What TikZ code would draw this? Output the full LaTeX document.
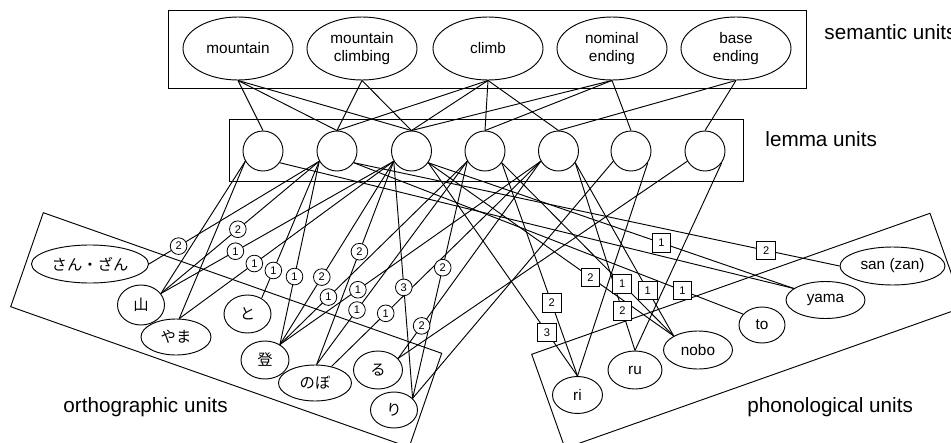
\documentclass[tikz,border=0pt]{standalone}
\usepackage{fontspec}
\setmainfont{Liberation Sans}
\newfontfamily\jpfont{Noto Sans CJK JP}
\usetikzlibrary{shapes.geometric}
\tikzset{
  nodefont/.style={font=\fontsize{11.5}{13.3}\selectfont},
  semnode/.style={ellipse, draw, fill=white, inner sep=0pt, minimum width=82.5pt, minimum height=47.25pt, align=center, nodefont},
  lemnode/.style={circle, draw, fill=white, inner sep=0pt, minimum size=30pt},
  ortnode/.style={ellipse, draw, fill=white, inner sep=0pt, font=\jpfont\fontsize{11.5}{13.3}\selectfont},
  phonode/.style={ellipse, draw, fill=white, inner sep=0pt, nodefont},
  cnum/.style={circle, draw, fill=white, inner sep=0pt, minimum size=12.5pt, line width=0.6pt, font=\fontsize{8.3}{8.3}\selectfont},
  snum/.style={rectangle, draw, fill=white, inner sep=0pt, minimum size=14pt, line width=0.6pt, font=\fontsize{8.3}{8.3}\selectfont},
  grouplabel/.style={anchor=base west, inner sep=0pt, font=\fontsize{15.5}{18}\selectfont},
  unitbox/.style={draw},
  link/.style={draw}
}
\begin{document}
\begin{tikzpicture}[x=0.75pt, y=-0.75pt, line width=0.7pt]
\useasboundingbox (0,0) rectangle (951,443);
\clip (0,0) rectangle (951,443);
% group boxes
\draw[unitbox] (168,10) rectangle (806,88);
\draw[unitbox] (229,119) rectangle (743,181);
\draw[unitbox] (43.3,212.7) -- (441.7,353.3) -- (409.1,447.3) -- (10.7,306.7) -- cycle;
\draw[unitbox] (531.7,354.3) -- (930,213.3) -- (963.3,307.3) -- (565,448.3) -- cycle;
% semantic units
\node[semnode] (s1) at (238,48.5) {mountain};
\node[semnode] (s2) at (362,48.5) {mountain\\climbing};
\node[semnode] (s3) at (488,48.5) {climb};
\node[semnode] (s4) at (612,48.5) {nominal\\ending};
\node[semnode] (s5) at (736,48.5) {base\\ending};
% lemma units
\node[lemnode] (L1) at (263,151) {};
\node[lemnode] (L2) at (337,151) {};
\node[lemnode] (L3) at (411.5,151) {};
\node[lemnode] (L4) at (485,151) {};
\node[lemnode] (L5) at (558.5,151) {};
\node[lemnode] (L6) at (631,151) {};
\node[lemnode] (L7) at (705,151) {};
% orthographic units
\node[ortnode, minimum width=87.75pt, minimum height=28.5pt] (o1) at (90,264) {さん・ざん};
\node[ortnode, minimum width=35.25pt, minimum height=30pt] (o2) at (141,305) {山};
\node[ortnode, minimum width=52.5pt, minimum height=27pt] (o3) at (176,337) {やま};
\node[ortnode, minimum width=35.25pt, minimum height=28.5pt] (o4) at (247.5,314) {と};
\node[ortnode, minimum width=36pt, minimum height=28.5pt] (o5) at (265,360) {登};
\node[ortnode, minimum width=54.75pt, minimum height=27pt] (o6) at (315,383) {のぼ};
\node[ortnode, minimum width=36.75pt, minimum height=28.5pt] (o7) at (378,370) {る};
\node[ortnode, minimum width=35.25pt, minimum height=27pt] (o8) at (394,410) {り};
% phonological units
\node[phonode, minimum width=78.75pt, minimum height=28.5pt] (p1) at (892.5,266) {san (zan)};
\node[phonode, minimum width=59.25pt, minimum height=27.75pt] (p2) at (825.5,300) {yama};
\node[phonode, minimum width=34.5pt, minimum height=27pt] (p3) at (762,325) {to};
\node[phonode, minimum width=51.75pt, minimum height=28.5pt] (p4) at (698,350) {nobo};
\node[phonode, minimum width=40.5pt, minimum height=28.5pt] (p5) at (635,370) {ru};
\node[phonode, minimum width=37.5pt, minimum height=27.75pt] (p6) at (577.5,395) {ri};
% semantic -> lemma
\draw[link] (s1.south) -- (L1.north);
\draw[link] (s1.south) -- (L2.north);
\draw[link] (s1.south) -- (L3.north);
\draw[link] (s2.south) -- (L2.north);
\draw[link] (s2.south) -- (L3.north);
\draw[link] (s3.south) -- (L2.north);
\draw[link] (s3.south) -- (L3.north);
\draw[link] (s3.south) -- (L4.north);
\draw[link] (s3.south) -- (L5.north);
\draw[link] (s4.south) -- (L3.north);
\draw[link] (s4.south) -- (L4.north);
\draw[link] (s4.south) -- (L6.north);
\draw[link] (s5.south) -- (L5.north);
\draw[link] (s5.south) -- (L7.north);
% lemma -> orthographic
\draw[link] (L1.210) -- (o2.30);
\draw[link] (L1.210) -- (o3.80);
\draw[link] (L2.210) -- coordinate[pos=0.826] (m1) (o1.east);
\draw[link] (L2.210) -- coordinate[pos=0.514] (m2) (o2.30);
\draw[link] (L2.210) -- coordinate[pos=0.797] (m3) (o4.48);
\draw[link] (L2.210) -- coordinate[pos=0.629] (m4) (o5.46);
\draw[link] (L3.210) -- coordinate[pos=0.68] (m5) (o2.30);
\draw[link] (L3.210) -- coordinate[pos=0.65] (m6) (o3.80);
\draw[link] (L3.210) -- coordinate[pos=0.632] (m7) (o5.46);
\draw[link] (L3.210) -- coordinate[pos=0.445] (m8) (o6.85);
\draw[link] (L3.210) -- coordinate[pos=0.532] (m9) (o8.32);
\draw[link] (L4.210) -- coordinate[pos=0.741] (m10) (o5.46);
\draw[link] (L4.210) -- coordinate[pos=0.732] (m11) (o6.85);
\draw[link] (L4.210) -- coordinate[pos=0.449] (m12) (o8.32);
\draw[link] (L5.210) -- coordinate[pos=0.701] (m13) (o5.46);
\draw[link] (L5.210) -- coordinate[pos=0.741] (m14) (o6.45);
\draw[link] (L5.210) -- coordinate[pos=0.835] (m15) (o7.30);
\draw[link] (L6.210) -- (o8.32);
\draw[link] (L7.210) -- (o7.30);
% lemma -> phonological
\draw[link] (L1.-35) -- (p2.160);
\draw[link] (L2.-35) -- coordinate[pos=0.849] (n1) (p1.west);
\draw[link] (L2.-35) -- coordinate[pos=0.844] (n2) (p3.150);
\draw[link] (L3.-35) -- coordinate[pos=0.638] (n3) (p2.160);
\draw[link] (L3.-35) -- coordinate[pos=0.661] (n4) (p4.150);
\draw[link] (L3.-35) -- coordinate[pos=0.795] (n5) (p6.north);
\draw[link] (L4.-35) -- coordinate[pos=0.658] (n6) (p6.north);
\draw[link] (L4.-35) -- coordinate[pos=0.70] (n7) (p4.150);
\draw[link] (L5.-35) -- coordinate[pos=0.736] (n8) (p4.150);
\draw[link] (L5.-35) -- coordinate[pos=0.79] (n9) (p5.north);
\draw[link] (L6.-35) -- (p6.north);
\draw[link] (L7.-35) -- (p5.north);
% position labels
\node[cnum] (c1) at (m1) {2};
\node[cnum] (c2) at (m2) {2};
\node[cnum] (c3) at (m3) {1};
\node[cnum] (c4) at (m4) {1};
\node[cnum] (c5) at (m5) {1};
\node[cnum] (c6) at (m6) {1};
\node[cnum] (c7) at (m7) {2};
\node[cnum] (c8) at (m8) {2};
\node[cnum] (c9) at (m9) {3};
\node[cnum] (c10) at (m10) {1};
\node[cnum] (c11) at (m11) {1};
\node[cnum] (c12) at (m12) {2};
\node[cnum] (c13) at (m13) {1};
\node[cnum] (c14) at (m14) {1};
\node[cnum] (c15) at (m15) {2};
\node[snum] (q1) at (n1) {2};
\node[snum] (q2) at (n2) {1};
\node[snum] (q3) at (n3) {1};
\node[snum] (q4) at (n4) {2};
\node[snum] (q5) at (n5) {3};
\node[snum] (q6) at (n6) {2};
\node[snum] (q7) at (n7) {1};
\node[snum] (q8) at (n8) {1};
\node[snum] (q9) at (n9) {2};
% group labels
\node[grouplabel] (t1) at (824,39) {semantic units};
\node[grouplabel] (t2) at (765,146) {lemma units};
\node[grouplabel] (t3) at (63,412) {orthographic units};
\node[grouplabel] (t4) at (747,412) {phonological units};
\end{tikzpicture}
\end{document}
